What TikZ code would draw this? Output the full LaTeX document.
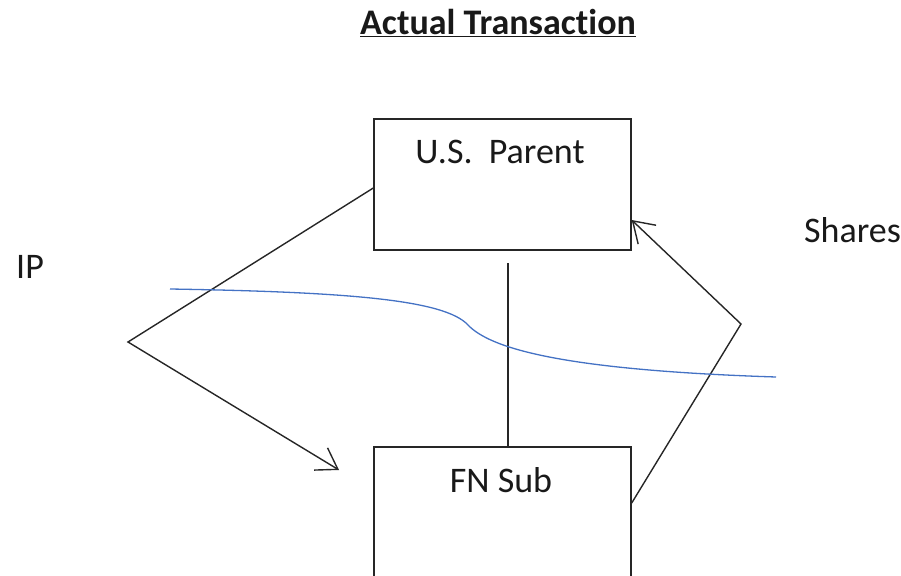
\documentclass[tikz,border=0pt]{standalone}
\usepackage{fontspec}
\setmainfont[Ligatures=NoCommon]{Carlito}
\usetikzlibrary{arrows.meta}
\definecolor{linkblue}{RGB}{68,114,196}
\begin{document}
\begin{tikzpicture}[x=1pt,y=-1pt,
  entity/.style={draw=black!85,line width=1.4pt,rectangle,minimum width=257pt,inner sep=0pt},
  lbl/.style={font=\fontsize{36}{40}\selectfont,anchor=base,inner sep=0pt,text=black!90},
  flow/.style={draw=black!85,line width=1.4pt,-{Straight Barb[length=20pt,width=26pt,line width=1.4pt]}},
  plain/.style={draw=black!85,line width=1.4pt},
  border/.style={draw=linkblue,line width=1.3pt}]
\useasboundingbox (0,0) rectangle (901,575);
\clip (0,0) rectangle (901,575);

% title
\node[lbl,font=\fontsize{36}{40}\selectfont\bfseries] (title) at (498,35) {\underline{Actual Transaction}};

% entities
\node[entity,minimum height=131pt] (parent) at (502.5,184.5) {};
\node[entity,minimum height=200pt] (sub) at (502.5,547) {};
\node[lbl] (parentlbl) at (500,163) {U.S.\ \ Parent};
\node[lbl] (sublbl) at (501,492) {FN Sub};
\node[lbl,anchor=base west] (ip) at (16,278) {IP};
\node[lbl,anchor=base west] (shares) at (804,242) {Shares};

% bend points of the two flows
\coordinate (ipbend) at (128,342);
\coordinate (ipend) at (339,470);
\coordinate (shbend) at (741,324);

% ownership line
\coordinate (ownertop) at (508,263);
\draw[plain] (ownertop) -- (sub.north -| ownertop);

% IP flow: parent to sub
\draw[flow] ([yshift=-3.5pt]parent.west) -- (ipbend) -- (ipend);

% shares flow: sub to parent
\draw[flow] ([yshift=44pt]sub.east) -- (shbend) -- ([yshift=-35.5pt]parent.east);

% border line
\draw[border] (170,289) .. controls (350,292) and (445,300) .. (468,325)
  .. controls (490,348) and (560,370) .. (776,377);
\end{tikzpicture}
\end{document}
